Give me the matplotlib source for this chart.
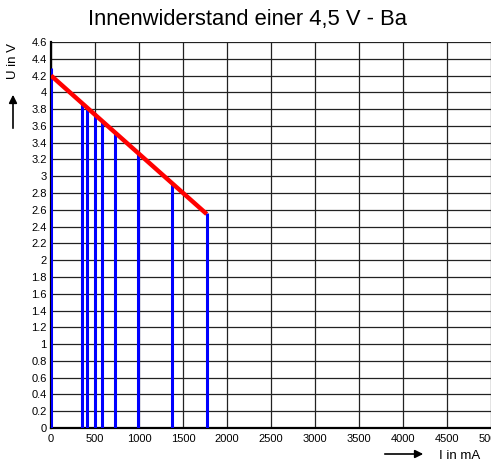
import matplotlib

matplotlib.use("Agg")

import matplotlib.pyplot as plt
from matplotlib.ticker import MultipleLocator

plt.rcParams["font.family"] = ["Liberation Sans", "DejaVu Sans"]

# Measured current (mA) and terminal voltage (V) of the battery
current_ma = [0, 352, 413, 500, 583, 731, 985, 1375, 1769]
voltage_v = [4.29, 3.87, 3.81, 3.75, 3.66, 3.52, 3.27, 2.91, 2.56]

# End points of the fitted load line
fit_current = [0, 1769]
fit_voltage = [4.2, 2.55]

fig = plt.figure(figsize=(4.91, 4.61), dpi=100)
ax = fig.add_axes([51 / 491, 33 / 461, 440 / 491, 386 / 461])

ax.set_xlim(0, 5000)
ax.set_ylim(0, 4.6)
ax.xaxis.set_major_locator(MultipleLocator(500))
ax.yaxis.set_major_locator(MultipleLocator(0.2))
ax.yaxis.set_major_formatter(lambda v, _: f"{v:.1f}".rstrip("0").rstrip("."))
ax.tick_params(length=0, labelsize=8)
ax.tick_params(axis="y", pad=3)
ax.tick_params(axis="x", pad=4)
ax.grid(True, color="#222222", lw=0.9)
ax.set_axisbelow(True)

for side in ("top", "right"):
    ax.spines[side].set_visible(False)
ax.spines["left"].set_linewidth(1.6)
ax.spines["bottom"].set_linewidth(1.6)

ax.vlines(current_ma, 0, voltage_v, colors="#0000ff", lw=2.2, zorder=3)
ax.plot(fit_current, fit_voltage, color="#ff0000", lw=3.2, zorder=4,
        solid_capstyle="butt")

fig.text(248 / 491, 1 - 20 / 461, "Innenwiderstand einer 4,5 V - Ba",
         ha="center", va="center", fontsize=15.8)

# axis captions with arrows
fig.text(13 / 491, 1 - 61 / 461, "U in V", rotation=90, ha="center",
         va="center", fontsize=9.5)
fig.add_artist(plt.Annotation("", xy=(13 / 491, 1 - 92 / 461),
                              xytext=(13 / 491, 1 - 131 / 461),
                              xycoords="figure fraction",
                              arrowprops=dict(arrowstyle="-|>", color="black",
                                              lw=1.2, mutation_scale=12)))
fig.text(460 / 491, 1 - 456 / 461, "I in mA", ha="center", va="center",
         fontsize=9.5)
fig.add_artist(plt.Annotation("", xy=(426 / 491, 1 - 454 / 461),
                              xytext=(382 / 491, 1 - 454 / 461),
                              xycoords="figure fraction",
                              arrowprops=dict(arrowstyle="-|>", color="black",
                                              lw=1.2, mutation_scale=12)))

fig.savefig("out.png", dpi=100, facecolor="white")
